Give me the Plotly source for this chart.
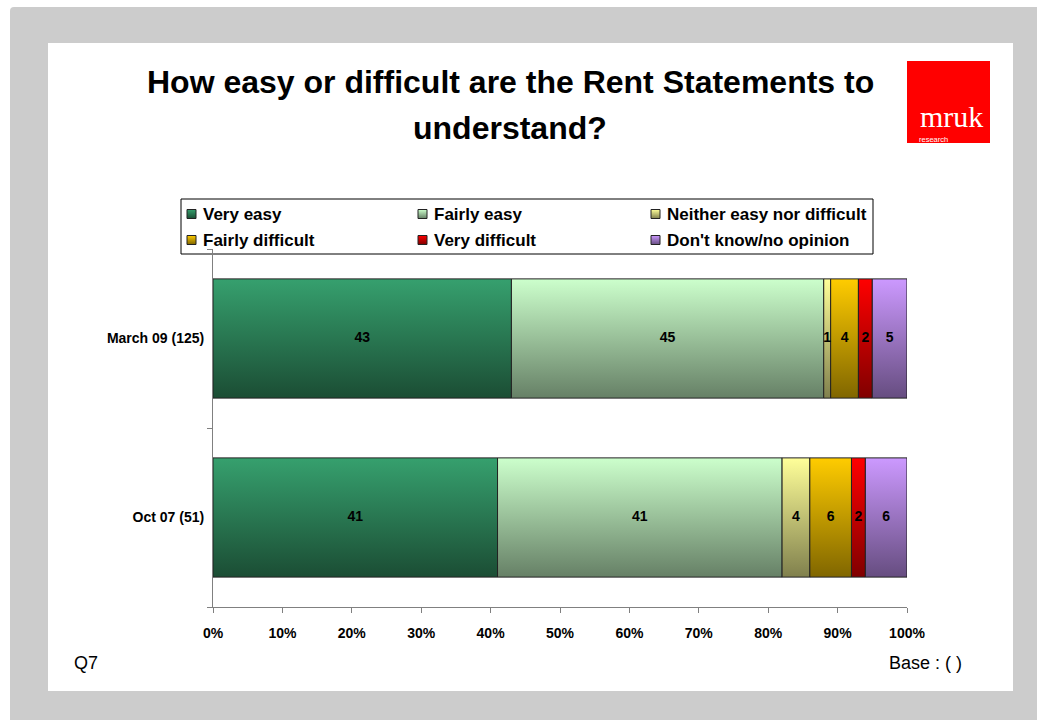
import plotly.graph_objects as go
import numpy as np

# ---- data -------------------------------------------------------------
categories = ["Oct 07 (51)", "March 09 (125)"]          # bottom -> top
series_names = ["Very easy", "Fairly easy", "Neither easy nor difficult",
                "Fairly difficult", "Very difficult", "Don't know/no opinion"]
very_easy = [41, 43]
fairly_easy = [41, 45]
neither = [4, 1]
fairly_difficult = [6, 4]
very_difficult = [2, 2]
dont_know = [6, 5]
x_ticks = [0, 10, 20, 30, 40, 50, 60, 70, 80, 90, 100]
x_tick_labels = [f"{v}%" for v in x_ticks]

series_values = [very_easy, fairly_easy, neither, fairly_difficult, very_difficult, dont_know]
# (top colour, bottom colour) of each vertical gradient
series_colors = [("#36a06e", "#1b4d34"),
                 ("#ccffcc", "#668066"),
                 ("#ffff99", "#80804d"),
                 ("#ffcc00", "#806600"),
                 ("#ff0000", "#800000"),
                 ("#cc99ff", "#664d80")]

W, H = 1037, 720
BAR_HALF = 0.333
FONT = "Liberation Sans, Arial"


def px(x):
    return x / W


def py(y):
    return 1 - y / H


fig = go.Figure()

# ---- stacked bars drawn as gradient-filled polygons ------------------
cum = np.zeros(len(categories))
label_x, label_y, label_t = [], [], []
for name, vals, (top, bot) in zip(series_names, series_values, series_colors):
    vals = np.array(vals, dtype=float)
    for i, cat in enumerate(categories):
        x0, x1 = cum[i], cum[i] + vals[i]
        y0, y1 = i - BAR_HALF, i + BAR_HALF
        fig.add_trace(go.Scatter(
            x=[x0, x1, x1, x0, x0], y=[y0, y0, y1, y1, y0],
            mode="lines", fill="toself",
            line=dict(color="#222222", width=1),
            fillgradient=dict(type="vertical", colorscale=[[0, bot], [1, top]]),
            showlegend=False, hoverinfo="skip"))
        label_x.append((x0 + x1) / 2)
        label_y.append(i)
        label_t.append(str(int(vals[i])))
    cum += vals

# value labels
fig.add_trace(go.Scatter(
    x=label_x, y=label_y, text=label_t, mode="text",
    textfont=dict(family=FONT, size=14, color="black", weight="bold"),
    showlegend=False, hoverinfo="skip"))

# ---- legend: 3 columns x 2 rows on a pixel-space overlay axis --------
leg_left, leg_top, leg_right, leg_bottom = 181, 199, 873, 254
col_x = [191.5, 422.5, 655.5]
row_y = [214, 240]
for k, (name, (top, bot)) in enumerate(zip(series_names, series_colors)):
    cx, cy = col_x[k % 3], row_y[k // 3]
    fig.add_trace(go.Scatter(
        x=[cx], y=[cy], mode="markers", showlegend=False, hoverinfo="skip",
        marker=dict(symbol="square", size=9, color=top,
                    gradient=dict(type="vertical", color=bot),
                    line=dict(color="#222222", width=1)),
        xaxis="x2", yaxis="y2"))

# ---- background panels -----------------------------------------------
r = 4
shapes = [
    dict(type="path", xref="paper", yref="paper", layer="below",
         path=(f"M {px(10)} {py(720)} L {px(10)} {py(7 + r)} "
               f"Q {px(10)} {py(7)} {px(10 + r)} {py(7)} "
               f"L {px(1037)} {py(7)} L {px(1037)} {py(720)} Z"),
         fillcolor="#cccccc", line=dict(width=0)),
    dict(type="rect", xref="paper", yref="paper", layer="below",
         x0=px(48), x1=px(1013), y0=py(691), y1=py(43),
         fillcolor="white", line=dict(width=0)),
    # legend frame
    dict(type="rect", xref="paper", yref="paper", layer="below",
         x0=px(leg_left), x1=px(leg_right), y0=py(leg_bottom), y1=py(leg_top),
         fillcolor="white", line=dict(color="black", width=1)),
    # logo block
    dict(type="rect", xref="paper", yref="paper",
         x0=px(907), x1=px(990), y0=py(143), y1=py(61),
         fillcolor="#ff0000", line=dict(width=0)),
]

annotations = [
    dict(text="<b>How easy or difficult are the Rent Statements to</b>",
         x=px(510), y=py(82), xref="paper", yref="paper",
         xanchor="center", yanchor="middle", showarrow=False,
         font=dict(family=FONT, size=32, color="black")),
    dict(text="<b>understand?</b>",
         x=px(510), y=py(128), xref="paper", yref="paper",
         xanchor="center", yanchor="middle", showarrow=False,
         font=dict(family=FONT, size=32, color="black")),
    dict(text="mruk", x=px(951), y=py(134), xref="paper", yref="paper",
         xanchor="center", yanchor="bottom", showarrow=False, borderpad=0,
         font=dict(family="Liberation Serif, DejaVu Serif", size=30, color="white")),
    dict(text="research", x=px(918), y=py(134), xref="paper", yref="paper",
         xanchor="left", yanchor="top", showarrow=False, borderpad=0,
         font=dict(family=FONT, size=7.5, color="white")),
    dict(text="Q7", x=px(72), y=py(663), xref="paper", yref="paper",
         xanchor="left", yanchor="middle", showarrow=False,
         font=dict(family=FONT, size=18, color="black")),
    dict(text="Base : ( )", x=px(964), y=py(663), xref="paper", yref="paper",
         xanchor="right", yanchor="middle", showarrow=False,
         font=dict(family=FONT, size=18, color="black")),
]

# legend texts
for k, name in enumerate(series_names):
    annotations.append(dict(
        text=name, x=col_x[k % 3] + 9.5, y=row_y[k // 3], xref="x2", yref="y2",
        xanchor="left", yanchor="middle", showarrow=False,
        font=dict(family=FONT, size=17, color="black", weight="bold")))

fig.update_layout(
    width=W, height=H, autosize=False,
    margin=dict(l=0, r=0, t=0, b=0, pad=0),
    paper_bgcolor="white", plot_bgcolor="rgba(0,0,0,0)",
    shapes=shapes, annotations=annotations,
    showlegend=False,
    xaxis=dict(domain=[px(213), px(907)], range=[0, 100],
               tickvals=x_ticks, ticktext=x_tick_labels,
               showline=True, linecolor="#808080", linewidth=1,
               ticks="outside", ticklen=5, tickcolor="#808080",
               showgrid=False, zeroline=False, automargin=False,
               ticklabelstandoff=8,
               tickfont=dict(family=FONT, size=14, color="black", weight="bold")),
    yaxis=dict(domain=[py(607), py(249)], range=[-0.5, 1.5],
               tickvals=[0, 1], ticktext=categories,
               showline=True, linecolor="#808080", linewidth=1,
               ticks="", showgrid=False, zeroline=False, automargin=False,
               minor=dict(ticks="outside", ticklen=5, tickcolor="#808080", tick0=0.5, dtick=1,
                          showgrid=False),
               ticklabelstandoff=5,
               tickfont=dict(family=FONT, size=14, color="black", weight="bold")),
    xaxis2=dict(domain=[0, 1], range=[0, W], visible=False, anchor="y2",
                fixedrange=True),
    yaxis2=dict(domain=[0, 1], range=[H, 0], visible=False, anchor="x2",
                fixedrange=True),
)

fig.write_html("out.html")
